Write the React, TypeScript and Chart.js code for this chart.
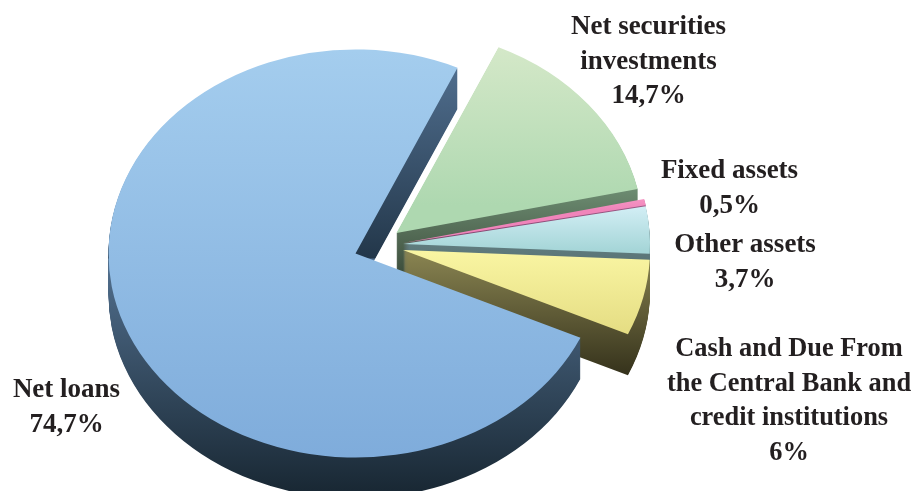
import React, { useEffect, useRef } from "react";
import { Chart, registerables } from "chart.js";

Chart.register(...registerables);

// Asset structure, in percent
const categories = [
  "Net securities investments",
  "Fixed assets",
  "Other assets",
  "Cash and Due From the Central Bank and credit institutions",
  "Net loans",
];
const shares = [14.7, 0.5, 3.7, 6, 74.7];
const captionLines = [
  ["Net securities", "investments"],
  ["Fixed assets"],
  ["Other assets"],
  ["Cash and Due From", "the Central Bank and", "credit institutions"],
  ["Net loans"],
];

// Pie projection
const RADIUS = 247;
const SQUASH = 0.826;
const DEPTH = 41;
const START_ANGLE = 24.4;
const CENTER_X = 355.5;
const CENTER_Y = 253.5;
const explode = [
  [41, -20.5],
  [47.5, -10.5],
  [47.5, -9.5],
  [47.5, -3.5],
  [0, 0],
];

type Stop = [number, string];

// Vertical colour ramps in page pixels, one for each slice's top face and wall
const faceRamps: Stop[][] = [
  [[48, "#d4e8c8"], [205, "#aed8b0"]],
  [[195, "#f79ac6"], [210, "#f084ba"]],
  [[205, "#d4eff6"], [250, "#a6d6d8"]],
  [[252, "#f9f5a2"], [336, "#e4dc82"]],
  [[50, "#a4cdee"], [457, "#7facdb"]],
];
const wallRamps: Stop[][] = [
  [[185, "#6f8f74"], [275, "#3c4c3b"]],
  [[200, "#a05c88"], [250, "#7a3f68"]],
  [[205, "#6f9090"], [295, "#4d6468"]],
  [[255, "#878250"], [378, "#33301a"]],
  [[66, "#506e8e"], [258, "#23374a"], [259, "#52708f"], [491, "#192834"]],
];

const captionSizes = [27, 27, 27, 26.4, 27];
const captionColor = "#231f20";
const LINE_STEP = 34.6;
const captionAnchors = [
  [648.5, 34],
  [729.5, 178],
  [745, 252],
  [789, 356],
  [66.5, 397],
];

function ramp(
  ctx: CanvasRenderingContext2D,
  stops: Stop[],
  shiftY: number
): CanvasGradient {
  const toLocal = (y: number) => CENTER_Y + (y - CENTER_Y - shiftY) / SQUASH;
  const first = stops[0][0];
  const last = stops[stops.length - 1][0];
  const g = ctx.createLinearGradient(0, toLocal(first), 0, toLocal(last));
  stops.forEach(([y, c]) => g.addColorStop((y - first) / (last - first), c));
  return g;
}

const pie3d = {
  id: "pie3d",
  beforeDatasetsDraw(chart: any) {
    const ctx: CanvasRenderingContext2D = chart.ctx;
    const arcs = chart.getDatasetMeta(0).data;

    const paint = (arc: any, fill: CanvasGradient, dx: number, dy: number) => {
      const saved = arc.options;
      arc.options = { ...saved, backgroundColor: fill };
      ctx.save();
      ctx.translate(CENTER_X + dx, CENTER_Y + dy);
      ctx.scale(1, SQUASH);
      ctx.translate(-CENTER_X, -CENTER_Y);
      arc.draw(ctx);
      ctx.restore();
      arc.options = saved;
    };

    arcs.forEach((arc: any, i: number) => {
      const [ex, ey] = explode[i];
      for (let d = DEPTH; d > 0; d--) {
        paint(arc, ramp(ctx, wallRamps[i], ey + d), ex, ey + d);
      }
      paint(arc, ramp(ctx, faceRamps[i], ey), ex, ey);
    });
    return false;
  },
  afterDraw(chart: any) {
    const ctx: CanvasRenderingContext2D = chart.ctx;
    ctx.save();
    ctx.fillStyle = captionColor;
    ctx.textAlign = "center";
    ctx.textBaseline = "alphabetic";
    captionLines.forEach((lines, i) => {
      const [x, y] = captionAnchors[i];
      ctx.font = `bold ${captionSizes[i]}px 'Liberation Serif'`;
      const rows = [...lines, `${shares[i]}`.replace(".", ",") + "%"];
      rows.forEach((row, r) => ctx.fillText(row, x, y + r * LINE_STEP));
    });
    ctx.restore();
  },
};

export default function App() {
  const canvasRef = useRef<HTMLCanvasElement | null>(null);

  useEffect(() => {
    const chart = new Chart(canvasRef.current!, {
      type: "pie",
      data: {
        labels: categories,
        datasets: [
          {
            data: shares,
            borderWidth: 0,
            backgroundColor: faceRamps.map((r) => r[0][1]),
          },
        ],
      },
      options: {
        responsive: false,
        animation: false,
        events: [],
        rotation: START_ANGLE,
        radius: RADIUS,
        layout: {
          padding: {
            left: 0,
            top: 2 * CENTER_Y - 491,
            right: 916 - 2 * CENTER_X,
            bottom: 0,
          },
        },
        plugins: {
          legend: { display: false },
          tooltip: { enabled: false },
          title: { display: false },
        },
      },
      plugins: [pie3d],
    } as any);
    return () => chart.destroy();
  }, []);

  return (
    <div style={{ position: "absolute", left: 0, top: 0, width: 916, height: 491, background: "#fff", overflow: "hidden" }}>
      <canvas ref={canvasRef} width={916} height={491} style={{ display: "block" }} />
    </div>
  );
}
